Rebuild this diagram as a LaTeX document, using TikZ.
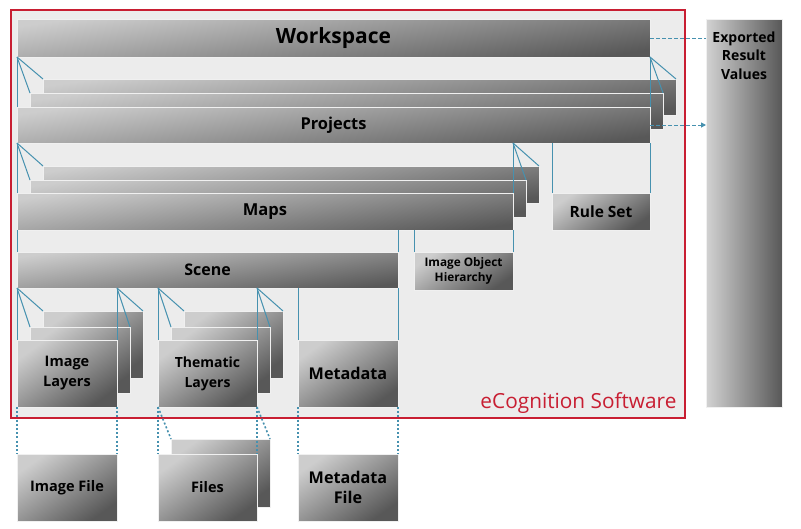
\documentclass[tikz,border=0pt]{standalone}
\usepackage{fontspec}
\setmainfont{Open Sans}
\usetikzlibrary{arrows.meta}
\definecolor{blueln}{RGB}{70,145,175}
\definecolor{redfr}{RGB}{200,30,50}
\definecolor{bgfill}{RGB}{236,236,236}
\definecolor{glight}{RGB}{205,205,205}
\definecolor{gdark}{RGB}{88,88,88}
\newcommand\mybox[7]{%
  \node[#6, minimum width={(#4)-(#2)}, minimum height={(#5)-(#3)}] (#1) at (#2,#3) {#7};}
\begin{document}
\begin{tikzpicture}[x=1pt,y=-1pt,
  base/.style={anchor=north west, inner sep=0pt, outer sep=0pt, align=center,
    draw=white!88!gray, line width=0.6pt, font=\bfseries},
  bar/.style={base, top color=glight, bottom color=gdark, shading angle=8},
  boxsh/.style={base, top color=glight, bottom color=gdark, shading angle=35},
  colsh/.style={base, left color=glight!90!white, right color=gdark},
  frame/.style={anchor=north west, inner sep=0pt, fill=bgfill, draw=redfr, line width=2.4pt},
  link/.style={draw=blueln, line width=1pt},
  dotlink/.style={draw=blueln, line width=1.6pt, dash pattern=on 2pt off 2.2pt},
  dashlink/.style={draw=blueln, line width=1pt, dash pattern=on 3.5pt off 2.5pt}]
\useasboundingbox (0,0) rectangle (801,528);
\fill[white] (0,0) rectangle (801,528);
% frame
\mybox{frame}{10}{9}{684}{417}{frame}{}
\node[anchor=base east, text=redfr, font=\fontsize{20.8}{24}\selectfont] (ecog) at (680,408) {eCognition Software};
% exported
\mybox{exp}{706}{19}{782}{407}{colsh}{}
\node[anchor=north, font=\bfseries\fontsize{14}{18.5}\selectfont, align=center] (expt) at (744,28) {Exported\\Result\\Values};
% workspace
\mybox{ws}{17}{19}{650}{57}{bar, font=\bfseries\fontsize{21}{24}\selectfont}{Workspace}
% projects stack
\mybox{pb}{43}{79}{676}{115}{bar}{}
\mybox{pm}{30}{93}{663}{129}{bar}{}
\mybox{proj}{17}{107}{650}{143}{bar, font=\bfseries\fontsize{16.4}{19}\selectfont}{Projects}
% maps stack
\mybox{mb}{43}{166}{539}{203}{bar}{}
\mybox{mm}{30}{180}{526}{217}{bar}{}
\mybox{maps}{17}{193}{513}{230}{bar, font=\bfseries\fontsize{16.5}{19}\selectfont}{Maps}
% rule set
\mybox{rs}{552}{193}{650}{230}{boxsh, font=\bfseries\fontsize{15.5}{18}\selectfont}{Rule Set}
% image object hierarchy
\mybox{ioh}{414}{252}{513}{290}{boxsh, font=\bfseries\fontsize{11.8}{15.5}\selectfont}{Image Object\\Hierarchy}
% scene
\mybox{scene}{17}{252}{398}{288}{bar, font=\bfseries\fontsize{16}{19}\selectfont}{Scene}
% image layers stack
\mybox{ilb}{43}{311}{143}{378}{boxsh}{}
\mybox{ilm}{30}{327}{130}{393}{boxsh}{}
\mybox{il}{17}{340}{117}{407}{boxsh, font=\bfseries\fontsize{14.5}{20}\selectfont}{Image\\Layers}
% thematic stack
\mybox{tlb}{184}{311}{283}{378}{boxsh}{}
\mybox{tlm}{171}{327}{270}{393}{boxsh}{}
\mybox{tl}{158}{340}{257}{407}{boxsh, font=\bfseries\fontsize{14}{20}\selectfont}{Thematic\\Layers}
% metadata
\mybox{md}{298}{340}{398}{407}{boxsh, font=\bfseries\fontsize{16.2}{20}\selectfont}{Metadata}
% files row
\mybox{imf}{17}{454}{117}{521}{boxsh, font=\bfseries\fontsize{14.5}{20}\selectfont}{Image File}
\mybox{fsh}{171}{439}{270}{507}{boxsh}{}
\mybox{files}{158}{454}{257}{521}{boxsh, font=\bfseries\fontsize{14.5}{20}\selectfont}{Files}
\mybox{mdf}{298}{454}{398}{521}{boxsh, font=\bfseries\fontsize{16.2}{20}\selectfont}{Metadata\\File}
% connectors: workspace -> projects
\draw[link] (ws.south west) -- (pb.north west);
\draw[link] (ws.south west) -- (pm.north west);
\draw[link] (ws.south west) -- (proj.north west);
\draw[link] (ws.south east) -- (pb.north east);
\draw[link] (ws.south east) -- (pm.north east);
\draw[link] (ws.south east) -- (proj.north east);
% projects -> maps
\draw[link] (proj.south west) -- (mb.north west);
\draw[link] (proj.south west) -- (mm.north west);
\draw[link] (proj.south west) -- (maps.north west);
\coordinate (pr) at (maps.north east |- proj.south);
\draw[link] (pr) -- (mb.north east);
\draw[link] (pr) -- (mm.north east);
\draw[link] (pr) -- (maps.north east);
% projects -> rule set
\draw[link] (rs.north west |- proj.south) -- (rs.north west);
\draw[link] (rs.north east |- proj.south) -- (rs.north east);
% maps -> ioh
\draw[link] (ioh.north west |- maps.south) -- (ioh.north west);
\draw[link] (ioh.north east |- maps.south) -- (ioh.north east);
% maps -> scene
\draw[link] (maps.south west) -- (scene.north west);
\draw[link] (scene.north east |- maps.south) -- (scene.north east);
% scene -> image layers
\coordinate (s1) at (il.north west |- scene.south);
\coordinate (s2) at (il.north east |- scene.south);
\draw[link] (s1) -- (ilb.north west);
\draw[link] (s1) -- (ilm.north west);
\draw[link] (s1) -- (il.north west);
\draw[link] (s2) -- (ilb.north east);
\draw[link] (s2) -- (ilm.north east);
\draw[link] (s2) -- (il.north east);
% scene -> thematic
\coordinate (s3) at (tl.north west |- scene.south);
\coordinate (s4) at (tl.north east |- scene.south);
\draw[link] (s3) -- (tlb.north west);
\draw[link] (s3) -- (tlm.north west);
\draw[link] (s3) -- (tl.north west);
\draw[link] (s4) -- (tlb.north east);
\draw[link] (s4) -- (tlm.north east);
\draw[link] (s4) -- (tl.north east);
% scene -> metadata
\draw[link] (md.north west |- scene.south) -- (md.north west);
\draw[link] (md.north east |- scene.south) -- (md.north east);
% dotted to files
\draw[dotlink] (il.south west) -- (imf.north west);
\draw[dotlink] (il.south east) -- (imf.north east);
\draw[dotlink] (tl.south west) -- (fsh.north west);
\draw[dotlink] (tl.south west) -- (files.north west);
\draw[dotlink] (tl.south east) -- (fsh.north east);
\draw[dotlink] (tl.south east) -- (files.north east);
\draw[dotlink] (md.south west) -- (mdf.north west);
\draw[dotlink] (md.south east) -- (mdf.north east);
% exported results
\draw[dashlink] (ws.east) -- (exp.west |- ws.east);
\draw[dashlink, -{Triangle[length=5pt,width=5pt]}] (proj.east) -- (exp.west |- proj.east);
\end{tikzpicture}
\end{document}
